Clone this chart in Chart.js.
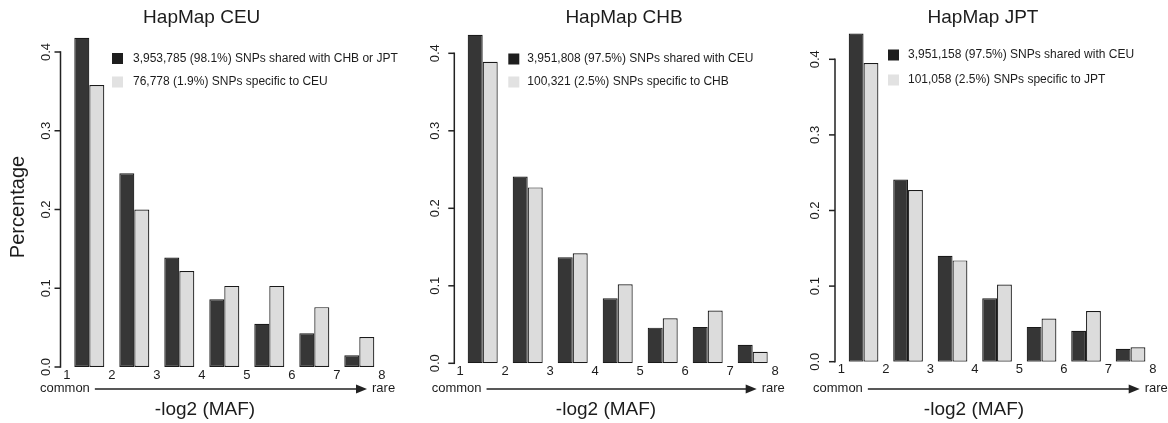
<!DOCTYPE html>
<html><head><meta charset="utf-8">
<script src="https://cdn.jsdelivr.net/npm/chart.js@4.4.0/dist/chart.umd.min.js"></script>
<style>
html,body{margin:0;padding:0;background:#fff;}
#wrap{position:relative;width:1168px;height:423px;overflow:hidden;background:#fff;}
canvas{position:absolute;left:0;top:0;}
</style></head><body><div id="wrap">
<canvas id="c0" width="1168" height="423"></canvas>
<canvas id="c1" width="1168" height="423"></canvas>
<canvas id="c2" width="1168" height="423"></canvas>
</div>
<script>
// ---- data ----
const bins = ['1','2','3','4','5','6','7'];
const xTickLabels = ['1','2','3','4','5','6','7','8'];
const yTickValues = [0, 0.1, 0.2, 0.3, 0.4];
const yTickLabels = ['0.0','0.1','0.2','0.3','0.4'];
const titles = ['HapMap CEU','HapMap CHB','HapMap JPT'];
const xAxisTitle = '-log2 (MAF)';
const yAxisTitle = 'Percentage';
const arrowLeftLabel = 'common';
const arrowRightLabel = 'rare';

const ceuShared   = [0.418, 0.246, 0.139, 0.086, 0.055, 0.043, 0.015];
const ceuSpecific = [0.358, 0.200, 0.122, 0.103, 0.103, 0.076, 0.038];
const chbShared   = [0.424, 0.241, 0.137, 0.084, 0.046, 0.047, 0.024];
const chbSpecific = [0.389, 0.227, 0.142, 0.102, 0.058, 0.068, 0.015];
const jptShared   = [0.434, 0.241, 0.140, 0.084, 0.046, 0.041, 0.017];
const jptSpecific = [0.395, 0.227, 0.134, 0.102, 0.057, 0.067, 0.019];

const ceuLegend = ['3,953,785 (98.1%) SNPs shared with CHB or JPT', '76,778 (1.9%) SNPs specific to CEU'];
const chbLegend = ['3,951,808 (97.5%) SNPs shared with CEU', '100,321 (2.5%) SNPs specific to CHB'];
const jptLegend = ['3,951,158 (97.5%) SNPs shared with CEU', '101,058 (2.5%) SNPs specific to JPT'];

// ---- layout / style ----
const FONT = '"Liberation Sans", Arial, sans-serif';
const TEXT = '#1c1c1c';
const LINE = '#222222';
const DARK = '#363636', LIGHT = '#dcdcdc', EDGE = '#1a1a1a';
const panels = [
  {shared: ceuShared, specific: ceuSpecific, legend: ceuLegend, title: titles[0], ylab: true,
   left: 66.8, right: 381.8, y0: 367, y4: 52, axisX: 60.5, tickLabX: 46, titleX: 201.7, xlabX: 205,
   sqX: 112, txX: 133, legY: [58.5, 82], commonX: 40, tip: 367},
  {shared: chbShared, specific: chbSpecific, legend: chbLegend, title: titles[1], ylab: false,
   left: 460.2, right: 775.2, y0: 363.3, y4: 53.3, axisX: 454.3, tickLabX: 435, titleX: 624, xlabX: 606,
   sqX: 508.3, txX: 527.3, legY: [59, 82], commonX: 431.7, tip: 756.7},
  {shared: jptShared, specific: jptSpecific, legend: jptLegend, title: titles[2], ylab: false,
   left: 841.3, right: 1152.8, y0: 361.7, y4: 59.3, axisX: 835, tickLabX: 815, titleX: 983, xlabX: 974,
   sqX: 888, txX: 908, legY: [55, 80], commonX: 813, tip: 1139.7}
];
const TOP = 10;

function makePlugin(p) {
  return {
    id: 'rstyle',
    afterDraw(chart) {
      const ctx = chart.ctx;
      const xs = chart.scales.x, ys = chart.scales.y;
      ctx.save();
      // y axis (vertical line + ticks), R style
      const yb = ys.getPixelForValue(yTickValues[0]);
      const yt = ys.getPixelForValue(yTickValues[yTickValues.length-1]);
      ctx.fillStyle = LINE;
      ctx.fillRect(p.axisX - 0.75, yt - 0.75, 1.5, yb - yt + 1.5);
      yTickValues.forEach((v) => {
        const y = ys.getPixelForValue(v);
        ctx.fillRect(p.axisX - 6, y - 0.75, 6, 1.5);
      });
      ctx.fillStyle = TEXT;
      // title
      ctx.font = '19px ' + FONT; ctx.textAlign = 'center'; ctx.textBaseline = 'middle';
      ctx.fillText(p.title, p.titleX, 18);
      // x axis title
      ctx.fillText(xAxisTitle, p.xlabX, 409.5);
      // y axis title
      if (p.ylab) {
        ctx.save(); ctx.translate(18, 207); ctx.rotate(-Math.PI/2);
        ctx.font = '20px ' + FONT; ctx.fillText(yAxisTitle, 0, 0); ctx.restore();
      }
      ctx.font = '13px ' + FONT;
      yTickValues.forEach((v, i) => {
        const y = ys.getPixelForValue(v);
        ctx.save(); ctx.translate(p.tickLabX, y); ctx.rotate(-Math.PI/2);
        ctx.textAlign = 'center'; ctx.textBaseline = 'middle';
        ctx.fillText(yTickLabels[i], 0, 0); ctx.restore();
      });
      // x tick labels at bin boundaries
      ctx.textAlign = 'center'; ctx.textBaseline = 'middle';
      xTickLabels.forEach((lab, k) => {
        const x = xs.getPixelForValue(k - 0.5);
        ctx.fillText(lab, x, p.y0 + 8);
      });
      // common ----> rare
      const ay = 389;
      ctx.textAlign = 'left';
      ctx.fillText(arrowLeftLabel, p.commonX, 388);
      const cw = ctx.measureText(arrowLeftLabel).width;
      ctx.fillStyle = LINE;
      ctx.fillRect(p.commonX + cw + 5, ay - 0.75, (p.tip - 8) - (p.commonX + cw + 5), 1.5);
      ctx.beginPath(); ctx.moveTo(p.tip, ay); ctx.lineTo(p.tip - 11, ay - 4.5); ctx.lineTo(p.tip - 11, ay + 4.5); ctx.closePath(); ctx.fill();
      ctx.fillStyle = TEXT;
      ctx.fillText(arrowRightLabel, p.tip + 5, 388);
      // legend
      ctx.font = '12px ' + FONT; ctx.textBaseline = 'middle';
      const sqCols = ['#1e1e1e', '#e2e2e2'];
      p.legend.forEach((t, i) => {
        const y = p.legY[i];
        ctx.fillStyle = sqCols[i]; ctx.fillRect(p.sqX, y - 5.5, 11, 11);
        ctx.fillStyle = TEXT; ctx.fillText(t, p.txX, y);
      });
      ctx.restore();
    }
  };
}

panels.forEach((p, idx) => {
  const ymax = 0.4 * (p.y0 - TOP) / (p.y0 - p.y4);
  new Chart(document.getElementById('c' + idx), {
    type: 'bar',
    data: {
      labels: bins,
      datasets: [
        {label: p.legend[0], data: p.shared, backgroundColor: DARK, borderColor: EDGE, borderWidth: 1.2, borderSkipped: false},
        {label: p.legend[1], data: p.specific, backgroundColor: LIGHT, borderColor: EDGE, borderWidth: 1.2, borderSkipped: false}
      ]
    },
    options: {
      responsive: false, animation: false, events: [],
      layout: {padding: {left: p.left, right: 1168 - p.right, top: TOP, bottom: 423 - p.y0}},
      datasets: {bar: {categoryPercentage: 2/3, barPercentage: 1}},
      plugins: {legend: {display: false}, title: {display: false}, tooltip: {enabled: false}},
      scales: {
        x: {type: 'category', display: false, offset: true},
        y: {type: 'linear', display: false, min: 0, max: ymax}
      }
    },
    plugins: [makePlugin(p)]
  });
});
</script>
</body></html>
